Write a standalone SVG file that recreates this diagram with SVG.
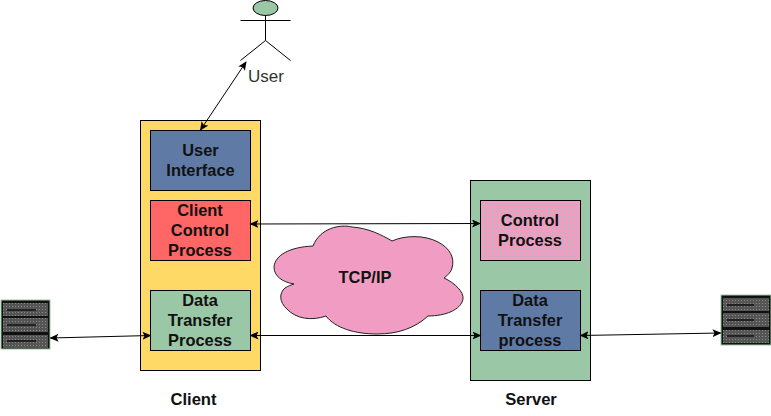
<svg xmlns="http://www.w3.org/2000/svg" width="771" height="416" viewBox="0 0 771 416">
<style>
text{font-family:"Liberation Sans",Arial,sans-serif;font-size:16.400px;font-weight:bold;fill:#111;text-anchor:middle}
.b{stroke:#000;stroke-width:1}
.l{stroke:#000;stroke-width:1;fill:none;marker-start:url(#a);marker-end:url(#a)}
.s{stroke:#000;stroke-width:1;fill:none}
</style>
<defs>
<marker id="a" markerWidth="9" markerHeight="8" refX="8" refY="4" orient="auto-start-reverse" markerUnits="userSpaceOnUse"><path d="M0 0L9 4L0 8L2 4Z" fill="#000"/></marker>
<pattern id="d" width="4" height="4" patternUnits="userSpaceOnUse"><rect width="4" height="4" fill="#f19cc3"/><rect width="1" height="1" fill="#9ac7a5"/></pattern>
<pattern id="r" width="3" height="3" patternUnits="userSpaceOnUse"><rect width="3" height="3" fill="#555"/><rect width="1" height="1" fill="#8a8a8a"/></pattern>
</defs>
<g id="client"><rect x="140.500" y="120.500" width="120" height="250" fill="#ffd966" class="b"/><text x="193.500" y="405" style="font-size:16.600px">Client</text></g>
<g id="server"><rect x="470.500" y="180.500" width="120" height="200" fill="#9ac7a5" class="b"/><text x="531" y="405" style="font-size:16.600px">Server</text></g>
<g id="user-interface"><rect x="150.500" y="130.500" width="100" height="60" fill="#5f7ba5" class="b"/><text x="200.500" y="156">User</text><text x="200.500" y="176">Interface</text></g>
<g id="client-control"><rect x="150.500" y="200.500" width="100" height="60" fill="#ff6666" class="b"/><text x="200" y="216">Client</text><text x="200" y="236">Control</text><text x="200" y="256">Process</text></g>
<g id="data-transfer-client"><rect x="150.500" y="290.500" width="100" height="60" fill="#9ac7a5" class="b"/><text x="200" y="306">Data</text><text x="200" y="326">Transfer</text><text x="200" y="346">Process</text></g>
<g id="control-process"><rect x="480.500" y="200.500" width="100" height="60" fill="url(#d)" class="b"/><text x="530" y="226">Control</text><text x="530" y="246">Process</text></g>
<g id="data-transfer-server"><rect x="480.500" y="290.500" width="100" height="60" fill="#5f7ba5" class="b"/><text x="530" y="306">Data</text><text x="530" y="326">Transfer</text><text x="530" y="346">process</text></g>
<g id="tcpip"><path d="M313 246C320 228 340 224 352 227C368 228 382 235 392 241C405 235 425 235 438 242C450 248 455 258 452 268C451 272 448 275 444 278C455 283 464 292 463 299C461 310 445 316 428 316C415 328 398 334 377 334C355 334 335 328 326 316C312 321 296 319 287 309C279 302 279 293 285 288C288 286 291 285 294 284C282 282 274 276 274 267C275 255 290 247 313 246Z" fill="#f19cc3" stroke="#222" stroke-width="1"/><text x="365" y="283">TCP/IP</text></g>
<g id="user"><ellipse cx="265.500" cy="8" rx="12.500" ry="7.500" fill="#9ac7a5" class="b"/><path class="s" d="M265.500 15.500V40.500M240.500 20.500H290.500M265.500 40.500L240.500 60.500M265.500 40.500L290.500 60.500"/><text x="266" y="82" style="font-weight:normal;font-size:17px;fill:#333">User</text></g>
<g id="storage-left"><rect x="1" y="300" width="49" height="49" fill="#111" stroke="#9ac7a5" stroke-width="1"/><g fill="url(#r)"><rect x="3" y="303" width="45" height="13"/><rect x="3" y="318" width="45" height="14"/><rect x="3" y="335" width="45" height="13"/></g><path d="M7 310H36M7 325H36M7 341H36" stroke="#111" stroke-width="1.500"/></g>
<g id="storage-right"><rect x="721" y="295" width="50" height="50" fill="#111" stroke="#9ac7a5" stroke-width="1"/><g fill="url(#r)"><rect x="723" y="298" width="46" height="13"/><rect x="723" y="313" width="46" height="14"/><rect x="723" y="330" width="46" height="13"/></g><path d="M727 305H754M727 320H754M727 336H754" stroke="#111" stroke-width="1.500"/></g>
<g id="connectors">
<path class="l" d="M246 62L200.500 130"/>
<path class="l" d="M250.500 224L480 223.500"/>
<path class="l" d="M250.500 335.500L480.500 335.500"/>
<path class="l" d="M50.500 338L150.500 335.500"/>
<path class="l" d="M580.500 335.500L720.500 333"/>
</g>
</svg>
